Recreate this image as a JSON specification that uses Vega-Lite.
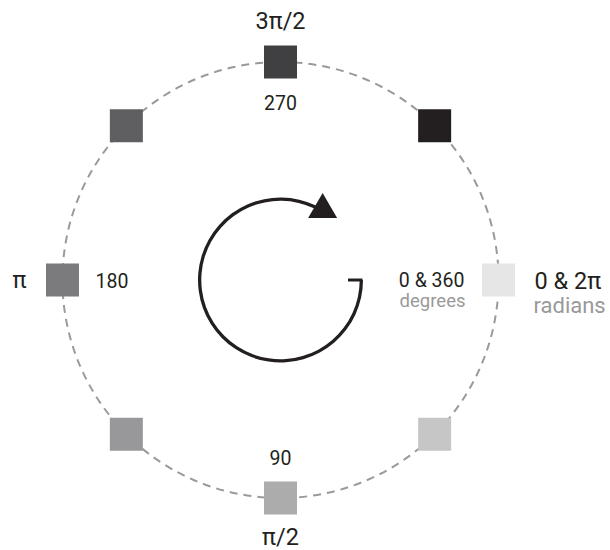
{
  "$schema": "https://vega.github.io/schema/vega-lite/v6.json",
  "width": 610,
  "height": 550,
  "autosize": {"type": "fit", "contains": "padding"},
  "padding": 0,
  "background": "white",
  "config": {"view": {"stroke": null}, "text": {"font": "Roboto, Liberation Sans, sans-serif", "fontWeight": "normal"}},
  "datasets": {
    "squares": [
      {"deg": 0, "x": 1, "y": 0, "degLabel": "0 & 360", "radLabel": "0 & 2π", "degUnit": "degrees", "radUnit": "radians"},
      {"deg": 45, "x": 0.7071, "y": -0.7071},
      {"deg": 90, "x": 0, "y": -1, "degLabel": "90", "radLabel": "π/2"},
      {"deg": 135, "x": -0.7071, "y": -0.7071},
      {"deg": 180, "x": -1, "y": 0, "degLabel": "180", "radLabel": "π"},
      {"deg": 225, "x": -0.7071, "y": 0.7071},
      {"deg": 270, "x": 0, "y": 1, "degLabel": "270", "radLabel": "3π/2"},
      {"deg": 315, "x": 0.7071, "y": 0.7071}
    ],
    "center": [{"x": 0, "y": 0}],
    "startTick": [{"x": 0.3096, "x2": 0.376, "y": 0}],
    "arrowHead": [{"x": 0.2099, "y": 0.3131}]
  },
  "encoding": {
    "x": {"field": "x", "type": "quantitative", "scale": {"domain": [-1.2867, 1.5115], "nice": false, "zero": false}, "axis": null},
    "y": {"field": "y", "type": "quantitative", "scale": {"domain": [-1.2385, 1.2844], "nice": false, "zero": false}, "axis": null}
  },
  "layer": [
    {
      "data": {"name": "center"},
      "mark": {"type": "arc", "theta": 0, "theta2": 6.2832, "outerRadius": 218, "innerRadius": 0, "filled": false, "stroke": "#9a9a9a", "strokeWidth": 2, "strokeDash": [8, 6]}
    },
    {
      "data": {"name": "center"},
      "mark": {"type": "arc", "theta": 1.5708, "theta2": 6.728, "outerRadius": 82.5, "innerRadius": 79.2, "fill": "#231f20", "stroke": null}
    },
    {
      "data": {"name": "startTick"},
      "mark": {"type": "rule", "color": "#231f20", "strokeWidth": 3},
      "encoding": {"x2": {"field": "x2"}}
    },
    {
      "data": {"name": "arrowHead"},
      "mark": {"type": "point", "shape": "triangle-up", "size": 841, "angle": 120, "filled": true, "color": "#231f20", "opacity": 1}
    },
    {
      "data": {"name": "squares"},
      "mark": {"type": "point", "shape": "square", "size": 1089, "filled": true, "opacity": 1},
      "encoding": {
        "color": {"field": "deg", "type": "ordinal", "legend": null,
          "scale": {"domain": [0, 45, 90, 135, 180, 225, 270, 315],
                    "range": ["#e6e6e6", "#c6c6c6", "#acacac", "#98989a", "#7b7b7d", "#5f5f61", "#404042", "#231f20"]}}
      }
    },
    {
      "data": {"name": "squares"},
      "transform": [{"filter": "datum.deg == 0"}],
      "layer": [
        {"mark": {"type": "text", "align": "right", "baseline": "alphabetic", "dx": -34, "dy": 7, "fontSize": 19.5, "color": "#231f20"}, "encoding": {"text": {"field": "degLabel"}}},
        {"mark": {"type": "text", "align": "right", "baseline": "alphabetic", "dx": -33, "dy": 27, "fontSize": 18.5, "color": "#999999"}, "encoding": {"text": {"field": "degUnit"}}},
        {"mark": {"type": "text", "align": "left", "baseline": "alphabetic", "dx": 36, "dy": 9, "fontSize": 23.5, "color": "#231f20"}, "encoding": {"text": {"field": "radLabel"}}},
        {"mark": {"type": "text", "align": "left", "baseline": "alphabetic", "dx": 35, "dy": 33, "fontSize": 22, "color": "#999999"}, "encoding": {"text": {"field": "radUnit"}}}
      ]
    },
    {
      "data": {"name": "squares"},
      "transform": [{"filter": "datum.deg == 90"}],
      "layer": [
        {"mark": {"type": "text", "align": "center", "baseline": "alphabetic", "dy": -33, "fontSize": 19.5, "color": "#231f20"}, "encoding": {"text": {"field": "degLabel"}}},
        {"mark": {"type": "text", "align": "center", "baseline": "alphabetic", "dy": 47, "fontSize": 23.5, "color": "#231f20"}, "encoding": {"text": {"field": "radLabel"}}}
      ]
    },
    {
      "data": {"name": "squares"},
      "transform": [{"filter": "datum.deg == 180"}],
      "layer": [
        {"mark": {"type": "text", "align": "left", "baseline": "alphabetic", "dx": 33, "dy": 8, "fontSize": 19.5, "color": "#231f20"}, "encoding": {"text": {"field": "degLabel"}}},
        {"mark": {"type": "text", "align": "center", "baseline": "alphabetic", "dx": -43, "dy": 8, "fontSize": 23.5, "color": "#231f20"}, "encoding": {"text": {"field": "radLabel"}}}
      ]
    },
    {
      "data": {"name": "squares"},
      "transform": [{"filter": "datum.deg == 270"}],
      "layer": [
        {"mark": {"type": "text", "align": "center", "baseline": "alphabetic", "dy": 48, "fontSize": 19.5, "color": "#231f20"}, "encoding": {"text": {"field": "degLabel"}}},
        {"mark": {"type": "text", "align": "center", "baseline": "alphabetic", "dy": -33, "fontSize": 23.5, "color": "#231f20"}, "encoding": {"text": {"field": "radLabel"}}}
      ]
    }
  ]
}
